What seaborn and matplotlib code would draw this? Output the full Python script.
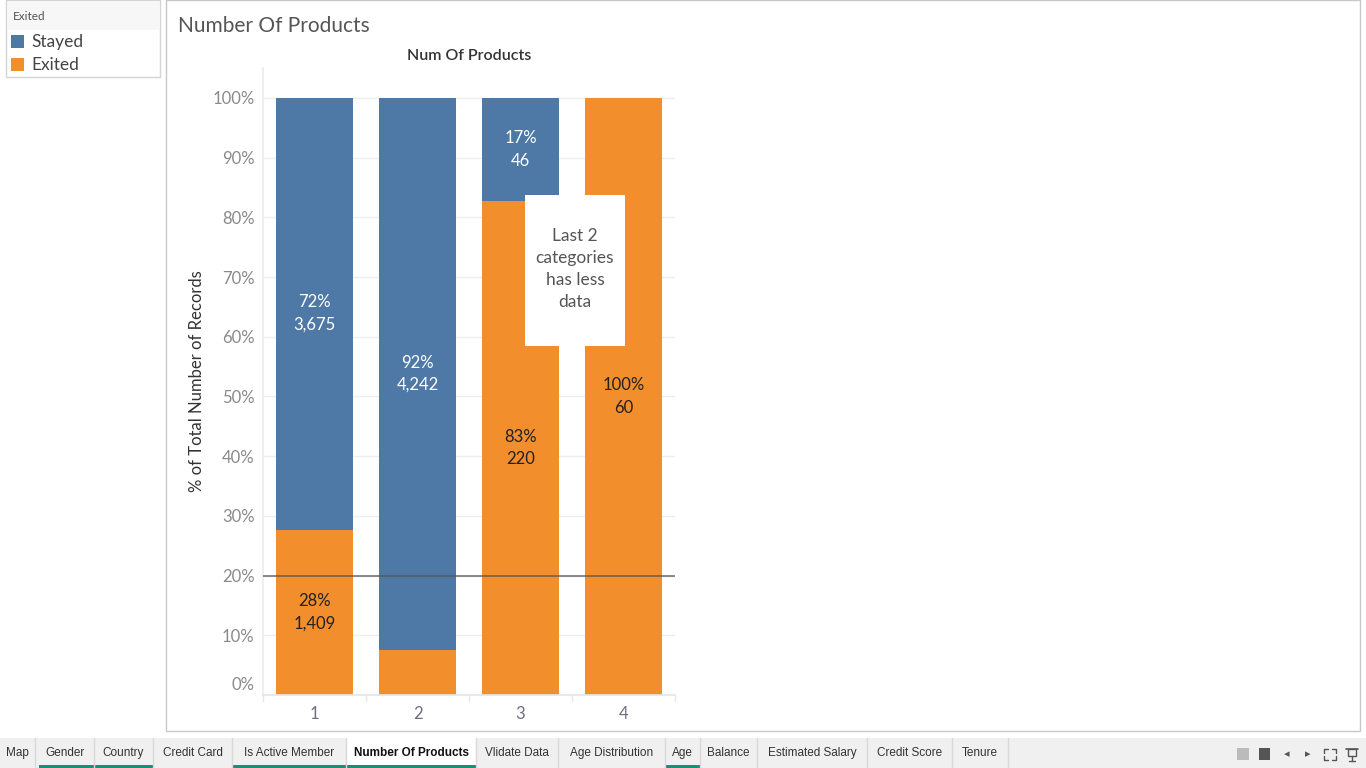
import numpy as np
import pandas as pd
import matplotlib.pyplot as plt
import matplotlib.transforms as mtransforms
import seaborn as sns
from matplotlib.patches import Rectangle

# datos
products = ["1", "2", "3", "4"]
stayed = [3675, 4242, 46, 0]
exited = [1409, 348, 220, 60]
ref_line = 20
note = "Last 2\ncategories\nhas less\ndata"
tabs = ["Map", "Gender", "Country", "Credit Card", "Is Active Member", "Number Of Products",
        "Vlidate Data", "Age Distribution", "Age", "Balance", "Estimated Salary",
        "Credit Score", "Tenure"]

BLUE = "#4e79a7"
ORANGE = "#f28e2b"
W, H = 1366, 768

df = pd.DataFrame({"products": products, "stayed": stayed, "exited": exited})
df["total"] = df["stayed"] + df["exited"]
df["pct_stayed"] = df["stayed"] / df["total"] * 100
df["pct_exited"] = df["exited"] / df["total"] * 100

sns.set_theme(style="white")
plt.rcParams["font.family"] = ["Lato", "DejaVu Sans"]

fig = plt.figure(figsize=(W / 100, H / 100), dpi=100)


def fx(x):
    return x / W


def fy(y):
    return 1 - y / H


def box(x, y, w, h, **kw):
    # rectangulo en pixeles (x, y = esquina superior izquierda)
    fig.patches.append(Rectangle((fx(x), fy(y + h)), fx(w), h / H, transform=fig.transFigure, **kw))


def line(xs, ys, **kw):
    fig.add_artist(plt.Line2D([fx(v) for v in xs], [fy(v) for v in ys], **kw))


# marco del dashboard
box(166, 0, 1194, 731, fill=False, edgecolor="#c8c8c8", linewidth=1)
fig.text(fx(178), fy(26), "Number Of Products", fontsize=15, color="#555555", va="center")

# leyenda
box(6, 0, 154, 77, facecolor="white", edgecolor="#d4d4d4", linewidth=1)
box(7, 1, 152, 29, facecolor="#f7f7f7", edgecolor="none")
fig.text(fx(13), fy(16), "Exited", fontsize=8.5, color="#555555", va="center")
for i, (lab, col) in enumerate([("Stayed", BLUE), ("Exited", ORANGE)]):
    yc = 42 + i * 23
    box(11, yc - 7, 13, 13, facecolor=col, edgecolor="none")
    fig.text(fx(31), fy(yc), lab, fontsize=12.5, color="#444444", va="center")

# grafico principal
ax = fig.add_axes([fx(263), fy(695), fx(675 - 263), (695 - 68) / H])
sns.barplot(data=df, x="products", y="pct_exited", order=products, color=ORANGE, width=0.75,
            saturation=1, ax=ax)
for p in ax.patches:
    p.set_linewidth(0)
# parte azul encima de la naranja
for i, row in df.iterrows():
    if row["stayed"] > 0:
        ax.bar(i, row["pct_stayed"], bottom=row["pct_exited"], width=0.75, color=BLUE, linewidth=0)

ax.set_ylim(0, 105)
ax.set_xlim(-0.5, 3.5)
ax.set_yticks(np.arange(0, 101, 10))
ax.set_yticklabels([f"{v}%" for v in range(0, 101, 10)])
ax.grid(axis="y", color="#eeeeee", linewidth=1)
ax.set_axisbelow(True)
ax.tick_params(axis="y", length=0, labelsize=12, labelcolor="#8a8a8a", pad=6)
ax.tick_params(axis="x", length=0, labelsize=12, labelcolor="#6f6f80", pad=8)
# la etiqueta 0% va un poco arriba como en tableau
lbl0 = ax.get_yticklabels()[0]
lbl0.set_transform(lbl0.get_transform() + mtransforms.ScaledTranslation(0, 0.12, fig.dpi_scale_trans))
for s in ["top", "right"]:
    ax.spines[s].set_visible(False)
ax.spines["left"].set_color("#ececec")
ax.spines["bottom"].set_color("#e6e6e6")
for xb in [-0.5, 0.5, 1.5, 2.5, 3.5]:
    ax.plot([xb, xb], [0, -1], color="#e6e6e6", linewidth=1, clip_on=False)
ax.set_xlabel("")
ax.set_ylabel("% of Total Number of Records", fontsize=12, color="#333333", labelpad=5)
ax.set_title("Num Of Products", fontsize=11.5, color="#333333", pad=6, fontweight="semibold")

# linea de referencia
ax.axhline(ref_line, color="#555555", linewidth=1.2, alpha=0.8, zorder=5)

# etiquetas
for i, row in df.iterrows():
    if row["stayed"] > 0:
        y = row["pct_exited"] + row["pct_stayed"] / 2
        ax.text(i, y, f"{row['pct_stayed']:.0f}%\n{row['stayed']:,}", ha="center", va="center",
                fontsize=12, color="white", linespacing=1.5, zorder=6)
    if row["pct_exited"] > 10:
        ax.text(i, row["pct_exited"] / 2, f"{row['pct_exited']:.0f}%\n{row['exited']:,}",
                ha="center", va="center", fontsize=12, color="#222222", linespacing=1.5, zorder=6)

# anotacion
box(525, 195, 100, 151, facecolor="white", edgecolor="none", zorder=10)
fig.text(fx(575), fy(269), note, ha="center", va="center", fontsize=12.5, color="#555555",
         linespacing=1.45, zorder=11)

# barra de pestañas
box(0, 738, W, 30, facecolor="#f0f0f0", edgecolor="none")
edges = [0, 35, 94, 153, 232, 346, 476, 558, 665, 700, 757, 867, 952, 1008]
green = {"Gender", "Country", "Is Active Member", "Number Of Products", "Age"}
for k, name in enumerate(tabs):
    x0, x1 = edges[k], edges[k + 1]
    if name == "Number Of Products":
        box(x0, 738, x1 - x0, 30, facecolor="white", edgecolor="none")
    if name in green:
        x0g = x0 + 4 if name == "Gender" else x0
        box(x0g, 765, x1 - x0g, 3, facecolor="#1a8f78", edgecolor="none")
    line([x1, x1], [738, 768], color="#d8d8d8", linewidth=1)
    sel = name == "Number Of Products"
    fig.text(fx((x0 + x1) / 2), fy(753), name, ha="center", va="center", fontsize=8.5,
             color="#111111" if sel else "#333333", fontweight="bold" if sel else "normal",
             family=["Liberation Sans", "DejaVu Sans"])

# iconos
box(1237, 748, 12, 12, facecolor="#bbbbbb", edgecolor="none")
box(1259, 748, 11, 12, facecolor="#555555", edgecolor="none")
fig.text(fx(1287), fy(754), "◂", ha="center", va="center", fontsize=8, color="#555555")
fig.text(fx(1308), fy(754), "▸", ha="center", va="center", fontsize=8, color="#555555")
# pantalla completa
for cx, cy, dx, dy in [(1324, 749, 1, 1), (1336, 749, -1, 1), (1324, 760, 1, -1), (1336, 760, -1, -1)]:
    line([cx, cx, cx + 4 * dx], [cy + 4 * dy, cy, cy], color="#555555", linewidth=1)
# presentacion
line([1346, 1358], [749, 749], color="#555555", linewidth=1.2)
box(1348, 749, 8, 7, fill=False, edgecolor="#555555", linewidth=1)
line([1352, 1352], [756, 761], color="#555555", linewidth=1)
line([1349, 1355], [761, 761], color="#555555", linewidth=1)

plt.savefig("out.png", dpi=100)
